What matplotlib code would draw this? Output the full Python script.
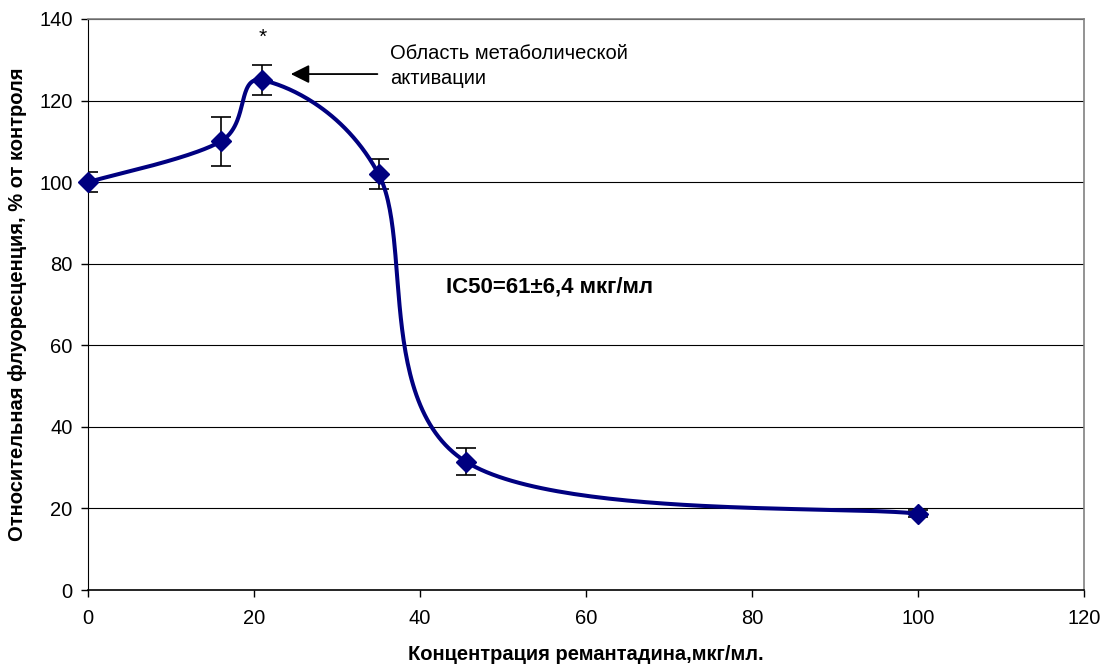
import numpy as np
import matplotlib
matplotlib.use('Agg')
import matplotlib.pyplot as plt

plt.rcParams['font.family'] = ['Liberation Sans', 'DejaVu Sans']

# data
conc = [0, 16, 21, 35, 45.5, 100]
fluor = [100, 110, 125, 102, 31.5, 18.7]
fluor_err = [2.5, 6, 3.7, 3.6, 3.2, 0.8]

xticks = [0, 20, 40, 60, 80, 100, 120]
yticks = [0, 20, 40, 60, 80, 100, 120, 140]


def smooth_curve(ax, xs, ys, n=60):
    # Excel-like smoothed line: Catmull-Rom bezier computed in screen space
    pts = ax.transData.transform(np.column_stack([xs, ys]))
    p = np.vstack([pts[0], pts, pts[-1]])
    out = []
    t = np.linspace(0, 1, n)[:, None]
    for i in range(1, len(p) - 2):
        p0, p1, p2, p3 = p[i - 1], p[i], p[i + 1], p[i + 2]
        c1 = p1 + (p2 - p0) / 6
        c2 = p2 - (p3 - p1) / 6
        seg = ((1 - t) ** 3) * p1 + 3 * ((1 - t) ** 2) * t * c1 + 3 * (1 - t) * t ** 2 * c2 + t ** 3 * p2
        out.append(seg)
    out = np.vstack(out)
    data = ax.transData.inverted().transform(out)
    return data[:, 0], data[:, 1]


fig = plt.figure(figsize=(11.04, 6.66), dpi=100)
ax = fig.add_axes([88 / 1104, 76 / 666, (1084 - 88) / 1104, (590 - 19) / 666])
ax.set_xlim(0, 120)
ax.set_ylim(0, 140)

for y in yticks[1:]:
    ax.axhline(y, color='black', lw=0.8, zorder=1)

ax.errorbar(conc, fluor, yerr=fluor_err, fmt='none', ecolor='black',
            elinewidth=1.2, capsize=7, capthick=1.2, zorder=2)

sx, sy = smooth_curve(ax, conc, fluor)
ax.plot(sx, sy, color='#000080', lw=2.9, zorder=3, clip_on=False)
ax.plot(conc, fluor, linestyle='none', marker='D', markersize=10.5,
        color='#000080', zorder=4, clip_on=False)

ax.set_xticks(xticks)
ax.set_yticks(yticks)
ax.tick_params(direction='out', length=5, width=1, labelsize=14.5)
ax.tick_params(axis='x', pad=9)
ax.tick_params(axis='y', pad=6)

ax.spines['left'].set_color('black')
ax.spines['bottom'].set_color('black')
ax.spines['bottom'].set_linewidth(1.2)
ax.spines['top'].set_color('#808080')
ax.spines['right'].set_color('#808080')
ax.spines['top'].set_linewidth(1.2)
ax.spines['right'].set_linewidth(1.2)

ax.set_xlabel('Концентрация ремантадина,мкг/мл.', fontsize=14.5, fontweight='bold', va='center')
ax.set_ylabel('Относительная флуоресценция, % от контроля', fontsize=14.5, fontweight='bold', va='center')
ax.xaxis.set_label_coords(0.5, (590 - 654) / 571)
ax.yaxis.set_label_coords((18 - 88) / 996, 0.5)

ax.text(21, 135.5, '*', ha='center', va='center', fontsize=15)
ax.annotate('', xy=(24.1, 126.5), xytext=(35.2, 126.5),
            arrowprops=dict(arrowstyle='-|>', color='black', lw=1.3, mutation_scale=28))
ax.text(36.4, 128.5, 'Область метаболической\nактивации', ha='left', va='center',
        fontsize=14.5, linespacing=1.4)
ax.text(43.1, 74.3, 'IC50=61±6,4 мкг/мл', ha='left', va='center', fontsize=16, fontweight='bold')

fig.savefig('out.png', dpi=100)
